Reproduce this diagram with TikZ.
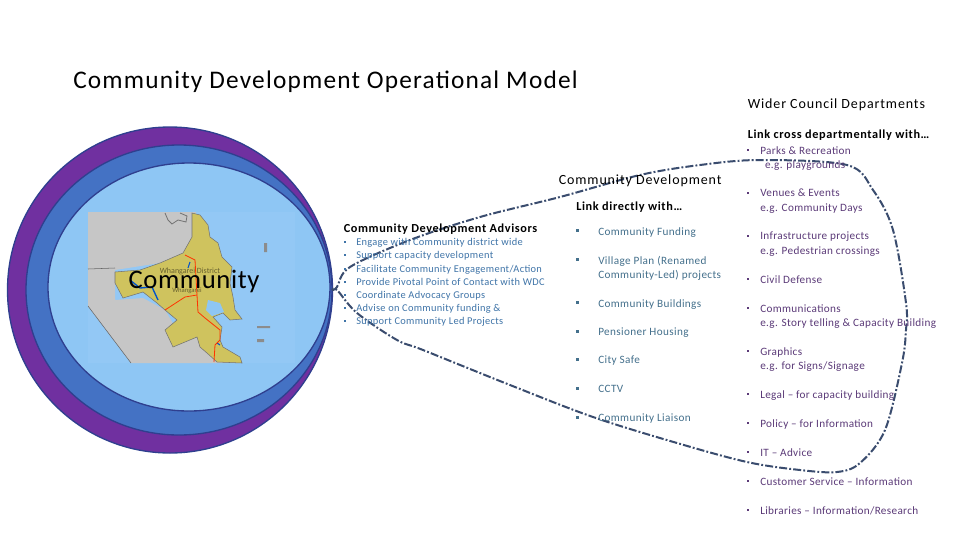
\documentclass[tikz,border=0pt]{standalone}
\usepackage{fontspec}
\setmainfont{Carlito}
\definecolor{purp}{HTML}{7030A0}
\definecolor{midblue}{HTML}{4472C4}
\definecolor{lightb}{HTML}{8EC6F4}
\definecolor{edgeb}{HTML}{2F3F8F}
\definecolor{advc}{HTML}{3F74A8}
\definecolor{midc}{HTML}{44708C}
\definecolor{rightc}{HTML}{5B3A78}
\definecolor{land}{HTML}{CFC35E}
\definecolor{greyl}{HTML}{C6C6C6}
\definecolor{curvec}{HTML}{3A4C6E}
\newcommand{\fnt}[2]{\fontsize{#1}{#1}\selectfont\addfontfeature{LetterSpace=#2}}
\tikzset{
  x=0.75pt,y=-0.75pt,
  ring/.style={draw=edgeb,line width=1pt},
  titletext/.style={anchor=base west,inner sep=0pt,font=\fnt{19}{4.7}},
  headtext/.style={anchor=base west,inner sep=0pt,font=\fnt{10.5}{6.3}},
  subhead/.style={anchor=base west,inner sep=0pt,font=\bfseries\fnt{9.2}{5}},
  advitem/.style={anchor=base west,inner sep=0pt,text=advc,font=\fnt{7.8}{3}},
  miditem/.style={anchor=north west,inner sep=0pt,text=midc,align=left,font=\fnt{8.4}{3.4},execute at begin node={\baselineskip=10.6pt}},
  rightitem/.style={anchor=north west,inner sep=0pt,text=rightc,align=left,font=\fnt{8.4}{3},execute at begin node={\baselineskip=10.6pt}},
  advdot/.style={fill=advc,minimum size=1.8pt,inner sep=0pt},
  middot/.style={fill=midc,minimum size=1.8pt,inner sep=0pt},
  rightdot/.style={fill=rightc,minimum size=1.8pt,inner sep=0pt},
}
\newcommand{\advrow}[3]{\node[advdot] (ad#1) at (345,#2-4) {}; \node[advitem] (at#1) at (356,#2-1) {#3};}
\newcommand{\midrow}[3]{\node[middot] (md#1) at (577.5,#2+5.5) {}; \node[miditem] (mt#1) at (598,#2+2) {#3};}
\newcommand{\rightrow}[3]{\node[rightdot] (rd#1) at (748,#2+6) {}; \node[rightitem] (rt#1) at (760,#2+2) {#3};}
\begin{document}
\begin{tikzpicture}
\useasboundingbox (0,0) rectangle (960,540);
\fill[white] (0,0) rectangle (960,540);
% rings
\path[fill=purp,ring] (170,290) ellipse [x radius=162.5,y radius=163];
\path[fill=midblue,ring] (179,290) ellipse [x radius=153,y radius=145];
\path[fill=lightb,ring] (189,287) ellipse [x radius=141,y radius=124];
% map
\fill[lightb!96!white] (88,212) rectangle (295,363);
\fill[greyl] (88,212) -- (196,212) -- (192,240) -- (183,253) -- (160,263) -- (115,270) -- (115,300) -- (143,298) -- (165,310) -- (177,330) -- (173,347) -- (197,337) -- (207,350) -- (228,360) -- (240,363) -- (131,363) -- (88,306) -- cycle;
\draw[black!60,line width=0.4pt] (88,306) -- (131,363) (88,269) -- (115,268);
\draw[black!55,line width=0.6pt] (165,213) -- (168,220) -- (172,224) -- (178,220) -- (186,222) -- (187,216) -- (180,213);
\path[fill=land,draw=black!55,line width=0.4pt] (192,213) -- (200,215) -- (208,225) -- (210,237) -- (218,243) -- (222,257) -- (232,267) -- (230,283) -- (233,297) -- (235,310) -- (242,319) -- (230,320) -- (223,313) -- (213,317) -- (222,327) -- (220,340) -- (223,347) -- (240,357) -- (242,363) -- (217,362) -- (207,353) -- (200,347) -- (197,337) -- (173,347) -- (165,330) -- (177,320) -- (165,310) -- (157,303) -- (143,292) -- (123,298) -- (115,283) -- (115,272) -- (140,270) -- (160,263) -- (183,253) -- (192,237) -- cycle;
\fill[lightb] (208,300) -- (220,303) -- (224,312) -- (212,316) -- (206,310) -- cycle;
\draw[blue!60!cyan!80!black,line width=1pt] (130,280) -- (140,288) -- (152,287) -- (158,300);
\draw[blue!60!cyan!80!black,line width=0.8pt] (190,262) -- (188,268) (217,343) -- (220,345);
\draw[red!60!orange,line width=0.6pt] (185,255) -- (195,260) -- (197,295) -- (198,312) -- (205,318) -- (220,330) -- (220,340) -- (215,345) -- (214,362);
\draw[red!60!orange,line width=0.6pt] (165,310) -- (185,297) -- (197,295);
\fill[black!45] (264,243) rectangle (267,252) (257,326) rectangle (270,328) (257,339) rectangle (264,342);
\node[inner sep=0pt,text=land!50!black,font=\fontsize{6}{7}\selectfont] (whd) at (190,271) {Whangarei District};
\node[inner sep=0pt,text=land!50!black,font=\fontsize{5}{6}\selectfont] (wh) at (187,291) {Whangarei};
\node[inner sep=0pt,font=\fnt{20}{2.3}] (comm) at (194,281) {Community};
% boundary curve
\draw[curvec,line width=1.5pt,dash pattern=on 6pt off 1.6pt on 1.4pt off 1.6pt] plot[smooth,tension=0.55] coordinates {(332,290) (337,287) (350,267) (410,240) (480,217) (560,197) (640,175) (700,165) (760,160) (847,165) (873,190) (893,230) (906,303) (906,330) (902,363) (885,430) (860,463) (837,472) (800,470) (747,462) (677,443) (593,417) (510,385) (423,350) (397,340) (357,313) (337,290) (332,290)};
% headings
\node[titletext] (title) at (73,88) {Community Development Operational Model};
\node[headtext] (wider) at (747.5,108) {Wider Council Departments};
\node[subhead] (linkc) at (747.5,138) {Link cross departmentally with…};
\node[headtext] (cd) at (558.5,184) {Community Development};
\node[subhead] (linkd) at (576,210) {Link directly with…};
\node[subhead] (cda) at (343.5,232) {Community Development Advisors};
% advisors
\advrow{1}{246}{Engage with Community district wide}
\advrow{2}{259}{Support capacity development}
\advrow{3}{273}{Facilitate Community Engagement/Action}
\advrow{4}{286}{Provide Pivotal Point of Contact with WDC}
\advrow{5}{299}{Coordinate Advocacy Groups}
\advrow{6}{312}{Advise on Community funding \&}
\advrow{7}{325}{Support Community Led Projects}
% middle
\midrow{1}{225}{Community Funding}
\midrow{2}{254}{Village Plan (Renamed\\Community-Led) projects}
\midrow{3}{297}{Community Buildings}
\midrow{4}{326}{Pensioner Housing}
\midrow{5}{354}{City Safe}
\midrow{6}{383}{CCTV}
\midrow{7}{412}{Community Liaison}
% right
\rightrow{1}{144}{Parks \& Recreation\\\ \,e.g. playgrounds}
\rightrow{2}{187}{Venues \& Events\\e.g. Community Days}
\rightrow{3}{230}{Infrastructure projects\\e.g. Pedestrian crossings}
\rightrow{4}{273}{Civil Defense}
\rightrow{5}{302}{Communications\\e.g. Story telling \& Capacity Building}
\rightrow{6}{345}{Graphics\\e.g. for Signs/Signage}
\rightrow{7}{388}{Legal – for capacity building}
\rightrow{8}{417}{Policy – for Information}
\rightrow{9}{446}{IT – Advice}
\rightrow{10}{475}{Customer Service – Information}
\rightrow{11}{504}{Libraries – Information/Research}
\end{tikzpicture}
\end{document}
